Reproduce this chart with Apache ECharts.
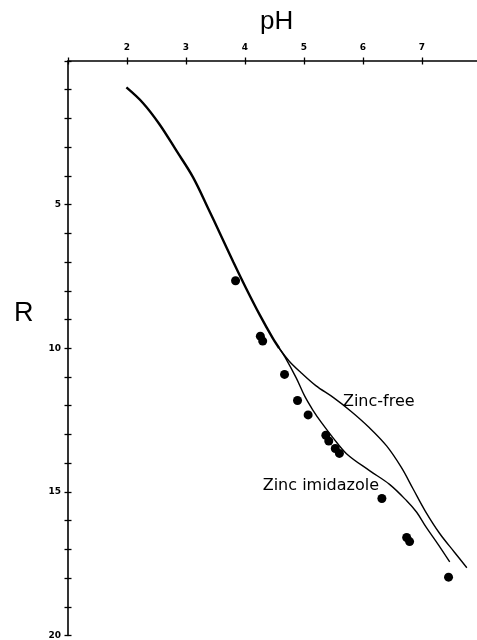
<!DOCTYPE html>
<html>
<head>
<meta charset="utf-8">
<script src="https://cdn.jsdelivr.net/npm/echarts@6/dist/echarts.min.js"></script>
<style>
html,body{margin:0;padding:0;background:#fff;overflow:hidden;width:477px;height:640px;}
#chart{width:490px;height:640px;}
</style>
</head>
<body>
<div id="chart"></div>
<script>
// Shared part of the curve (before the branches separate): [pH, R]
const sharedCurve = [[1.99,0.92],[2.27,1.46],[2.55,2.20],[2.84,3.13],[3.12,4.05],[3.38,5.15],[3.57,5.98],[3.80,6.99],[4.02,7.92],[4.25,8.84],[4.47,9.65],[4.58,10.00]];
// Zinc-free branch
const zincFree = [[4.58,10.00],[4.75,10.45],[4.95,10.85],[5.20,11.30],[5.50,11.72],[5.80,12.20],[6.10,12.75],[6.40,13.40],[6.65,14.15],[6.85,14.90],[7.05,15.65],[7.30,16.45],[7.55,17.10],[7.76,17.64]];
// Zinc imidazole branch
const zincImidazole = [[4.58,10.00],[4.69,10.35],[4.87,11.04],[5.01,11.66],[5.15,12.15],[5.30,12.60],[5.49,13.11],[5.72,13.67],[6.11,14.26],[6.45,14.74],[6.74,15.31],[6.91,15.71],[7.07,16.23],[7.27,16.82],[7.47,17.44]];
// Measured points
const measured = [[3.84,7.65],[4.26,9.58],[4.30,9.75],[4.67,10.91],[4.89,11.82],[5.07,12.32],[5.37,13.03],[5.42,13.23],[5.53,13.49],[5.60,13.66],[6.32,15.23],[6.74,16.59],[6.79,16.73],[7.45,17.97]];
// Curve labels
const annotations = [{name:'Zinc-free', value:[5.66,11.87]},{name:'Zinc imidazole', value:[4.30,14.78]}];
const xTitle = 'pH';
const yTitle = 'R';

const chart = echarts.init(document.getElementById('chart'), null, {renderer:'canvas'});
const ink = '#000';
const tickFont = {color: ink, fontSize: 9, fontWeight: 'bold', fontFamily: 'DejaVu Sans'};
const grid = {left: 68, top: 61, width: 413, height: 578};
const xBase = {type:'value', min:1, max:8, interval:1, position:'top', splitLine:{show:false}, gridIndex:0};
const yBase = {type:'value', min:0, max:20, interval:1, inverse:true, position:'left', splitLine:{show:false}, gridIndex:0};
chart.setOption({
  animation:false,
  backgroundColor:'#fff',
  grid: grid,
  xAxis:[
    Object.assign({}, xBase, {
      axisLine:{show:true, lineStyle:{color:ink, width:1.6}},
      axisTick:{show:true, inside:false, length:3.5, lineStyle:{color:ink, width:1.3}},
      axisLabel:Object.assign({margin:9, formatter:v=> v===1 ? '' : String(v)}, tickFont)
    }),
    Object.assign({}, xBase, {
      axisLine:{show:false},
      axisTick:{show:true, inside:true, length:3.5, lineStyle:{color:ink, width:1.3}},
      axisLabel:{show:false}
    })
  ],
  yAxis:[
    Object.assign({}, yBase, {
      axisLine:{show:true, lineStyle:{color:ink, width:1.6}},
      axisTick:{show:true, inside:false, length:3.5, lineStyle:{color:ink, width:1.3}},
      axisLabel:Object.assign({margin:7, formatter:v=> (v>0 && v%5===0) ? String(v) : ''}, tickFont)
    }),
    Object.assign({}, yBase, {
      axisLine:{show:false},
      axisTick:{show:true, inside:true, length:3.5, lineStyle:{color:ink, width:1.3}},
      axisLabel:{show:false}
    })
  ],
  graphic:[
    {type:'text', left:260, top:9, style:{text:xTitle, fill:ink, font:'normal 26px "Liberation Sans"'}},
    {type:'text', left:14, top:300, style:{text:yTitle, fill:ink, font:'normal 27px "Liberation Sans"'}}
  ],
  series:[
    {type:'line', data:zincFree, smooth:0.35, symbol:'none', lineStyle:{color:ink, width:1.4}},
    {type:'line', data:zincImidazole, smooth:0.35, symbol:'none', lineStyle:{color:ink, width:1.4}},
    {type:'line', data:sharedCurve, smooth:0.35, symbol:'none', lineStyle:{color:ink, width:2.4}},
    {type:'scatter', data:measured, symbol:'circle', symbolSize:9, itemStyle:{color:ink, opacity:1}},
    {type:'scatter', data:annotations, symbolSize:0, silent:true, itemStyle:{opacity:1},
      label:{show:true, position:'right', distance:0, formatter:'{b}', color:ink, opacity:1, fontSize:16, fontFamily:'DejaVu Sans'}}
  ]
});
</script>
</body>
</html>
